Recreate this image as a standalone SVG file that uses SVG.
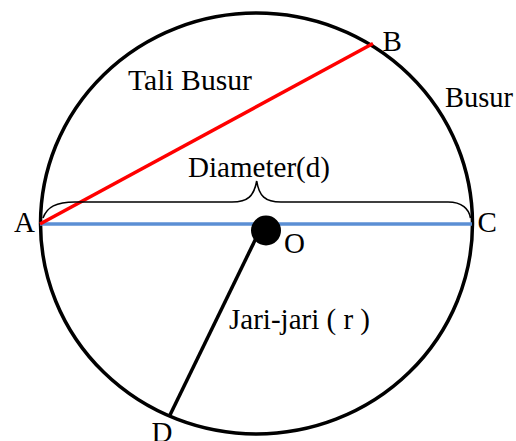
<svg xmlns="http://www.w3.org/2000/svg" width="516" height="441" viewBox="0 0 516 441">
<style>
text{font-family:"Liberation Serif","Times New Roman",serif;font-size:29px;fill:#000}
.c{fill:none;stroke:#000;stroke-width:3.5}
</style>
<rect width="516" height="441" fill="#fff"/>
<g id="circle"><ellipse class="c" cx="256.5" cy="223.5" rx="216" ry="210.5"/></g>
<g id="connectors">
<line x1="40" y1="224" x2="472" y2="224" stroke="#5B8FD4" stroke-width="3.5"/>
<line x1="40" y1="224" x2="373" y2="43.5" stroke="#FF0000" stroke-width="3.5"/>
<line x1="260" y1="230" x2="170" y2="415" stroke="#000" stroke-width="3.5"/>
<path d="M43,218 C47,207 56,202 75,202 L232,202 C248,202 254,196 256.7,181 C259,196 265,202 281,202 L448,202 C462,202 469,209 470.5,218" fill="none" stroke="#000" stroke-width="1.6"/>
</g>
<g id="O"><circle cx="266" cy="230.5" r="15"/><text x="284" y="252.5">O</text></g>
<g id="A"><text x="14" y="232">A</text></g>
<g id="B"><text x="382.5" y="51">B</text></g>
<g id="C"><text x="477.5" y="232">C</text></g>
<g id="D"><text x="151.5" y="441.5">D</text></g>
<g id="labels">
<text x="128" y="90" textLength="124" lengthAdjust="spacingAndGlyphs">Tali Busur</text>
<text x="445" y="106.5" textLength="68" lengthAdjust="spacingAndGlyphs">Busur</text>
<text x="188" y="176.5" textLength="142" lengthAdjust="spacingAndGlyphs">Diameter(d)</text>
<text x="229" y="328.5" textLength="141" lengthAdjust="spacingAndGlyphs">Jari-jari ( r )</text>
</g>
</svg>
